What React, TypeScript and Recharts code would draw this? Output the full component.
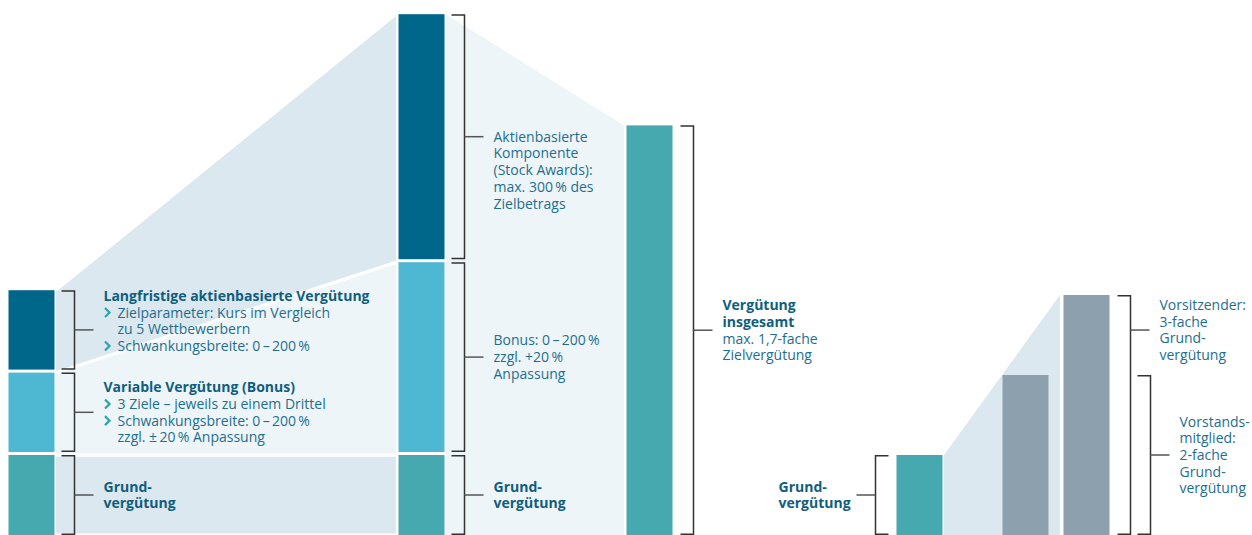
import { Area, Bar, ComposedChart, XAxis, YAxis } from "recharts";

const W = 1252;
const H = 535;
const UNIT_PX = 80; // Höhe einer Grundvergütung in px
const BAR_W = 46;
const GAP = 3;
const LH = 16.7;
const FONT = "'Open Sans', 'Noto Sans', sans-serif";

const DARK = "#00678A";
const LIGHT = "#4EB7D2";
const TEAL = "#46A9B0";
const GRAY = "#8CA1AD";
const BAND = "#DBE8EF";
const PALE = "#EEF5F9";
const TEXT = "#1E6E8E";
const HEAD = "#0F5E7E";
const BULLET = "#2BA5AB";
const RULE = "#333333";

// Spalten von links nach rechts
const columns = [
  "Zielvergütung",
  "Maximum",
  "Gesamt",
  "Grundvergütung",
  "Vorstandsmitglied",
  "Vorsitzender",
];
const columnX = [31, 421, 649, 919, 1025, 1086]; // Layout: Balkenmitten

// Werte als Vielfache der Grundvergütung
const grund = [1, 1, null, 1, null, null];
const bonus = [1.03, 2.41, null, null, null, null];
const aktien = [1.03, 3.1, null, null, null, null];
const gesamt = [null, null, 5.12, null, null, null];
const vielfaches = [null, null, null, null, 2, 3];

type Line = { t: string; bold?: boolean; bullet?: boolean; indent?: boolean };
type Spec = {
  side: "left" | "right";
  off: number;
  tickAt?: number;
  top?: boolean;
  dy?: number;
  textDx?: number;
  lines: Line[];
};

const grundLines: Line[] = [
  { t: "Grund-", bold: true },
  { t: "vergütung", bold: true },
];

const labels: Record<string, (Spec | null)[]> = {
  grund: [
    { side: "right", off: 7, lines: grundLines },
    { side: "right", off: 7, lines: grundLines },
    null,
    { side: "left", off: 8, textDx: -78, lines: grundLines },
    null,
    null,
  ],
  bonus: [
    {
      side: "right",
      off: 7,
      lines: [
        { t: "Variable Vergütung (Bonus)", bold: true },
        { t: "3 Ziele – jeweils zu einem Drittel", bullet: true },
        { t: "Schwankungsbreite: 0\u2009–\u2009200\u2009%", bullet: true },
        { t: "zzgl. ±\u200920\u2009% Anpassung", indent: true },
      ],
    },
    {
      side: "right",
      off: 7,
      lines: [
        { t: "Bonus: 0\u2009–\u2009200\u2009%" },
        { t: "zzgl. +20\u2009%" },
        { t: "Anpassung" },
      ],
    },
    null,
    null,
    null,
    null,
  ],
  aktien: [
    {
      side: "right",
      off: 7,
      dy: -9,
      lines: [
        { t: "Langfristige aktienbasierte Vergütung", bold: true },
        { t: "Zielparameter: Kurs im Vergleich", bullet: true },
        { t: "zu 5 Wettbewerbern", indent: true },
        { t: "Schwankungsbreite: 0\u2009–\u2009200\u2009%", bullet: true },
      ],
    },
    {
      side: "right",
      off: 7,
      top: true,
      lines: [
        { t: "Aktienbasierte" },
        { t: "Komponente" },
        { t: "(Stock Awards):" },
        { t: "max. 300\u2009% des" },
        { t: "Zielbetrags" },
      ],
    },
    null,
    null,
    null,
    null,
  ],
  gesamt: [
    null,
    null,
    {
      side: "right",
      off: 8,
      lines: [
        { t: "Vergütung", bold: true },
        { t: "insgesamt", bold: true },
        { t: "max. 1,7-fache" },
        { t: "Zielvergütung" },
      ],
    },
    null,
    null,
    null,
  ],
  vielfaches: [
    null,
    null,
    null,
    null,
    {
      side: "right",
      off: 89,
      lines: [
        { t: "Vorstands-" },
        { t: "mitglied:" },
        { t: "2-fache" },
        { t: "Grund-" },
        { t: "vergütung" },
      ],
    },
    {
      side: "right",
      off: 8,
      tickAt: 0.146,
      lines: [
        { t: "Vorsitzender:" },
        { t: "3-fache" },
        { t: "Grund-" },
        { t: "vergütung" },
      ],
    },
  ],
};

const series = [
  { key: "grund", colors: [TEAL, TEAL, TEAL, TEAL, TEAL, TEAL], lifted: false },
  { key: "bonus", colors: [LIGHT, LIGHT, LIGHT, LIGHT, LIGHT, LIGHT], lifted: true },
  { key: "aktien", colors: [DARK, DARK, DARK, DARK, DARK, DARK], lifted: true },
  { key: "gesamt", colors: [TEAL, TEAL, TEAL, TEAL, TEAL, TEAL], lifted: false },
  { key: "vielfaches", colors: [GRAY, GRAY, GRAY, GRAY, GRAY, GRAY], lifted: false },
];

const rows = columns.map((name, i) => ({
  name,
  x: columnX[i],
  grund: grund[i],
  bonus: bonus[i],
  aktien: aktien[i],
  gesamt: gesamt[i],
  vielfaches: vielfaches[i],
}));

const v = (a: (number | null)[], i: number) => a[i] ?? 0;
const edgeR = (i: number) => columnX[i] + BAR_W / 2 + 2;
const edgeL = (i: number) => columnX[i] - BAR_W / 2 - 2;

const bands = [
  {
    key: "links-basis",
    fill: BAND,
    gap: true,
    data: [
      { x: edgeR(0), r: [0, v(grund, 0)] },
      { x: edgeL(1), r: [0, v(grund, 1)] },
    ],
  },
  {
    key: "links-bonus",
    fill: PALE,
    gap: true,
    data: [
      { x: edgeR(0), r: [v(grund, 0), v(grund, 0) + v(bonus, 0)] },
      { x: edgeL(1), r: [v(grund, 1), v(grund, 1) + v(bonus, 1)] },
    ],
  },
  {
    key: "links-aktien",
    fill: BAND,
    gap: true,
    data: [
      {
        x: edgeR(0),
        r: [v(grund, 0) + v(bonus, 0), v(grund, 0) + v(bonus, 0) + v(aktien, 0)],
      },
      {
        x: edgeL(1),
        r: [v(grund, 1) + v(bonus, 1), v(grund, 1) + v(bonus, 1) + v(aktien, 1)],
      },
    ],
  },
  {
    key: "mitte",
    fill: PALE,
    gap: false,
    data: [
      { x: edgeR(1), r: [0, v(grund, 1) + v(bonus, 1) + v(aktien, 1)] },
      { x: edgeL(2), r: [0, v(gesamt, 2)] },
    ],
  },
  {
    key: "rechts",
    fill: BAND,
    gap: false,
    data: [
      { x: edgeR(3), r: [0, v(grund, 3)] },
      { x: edgeL(5) - 1, r: [0, v(vielfaches, 5)] },
    ],
  },
];

function TextBlock({ lines, x, y0 }: { lines: Line[]; x: number; y0: number }) {
  return (
    <g>
      {lines.map((ln, i) => {
        const cy = y0 + i * LH;
        const tx = ln.bullet || ln.indent ? x + 14 : x;
        return (
          <g key={i}>
            {ln.bullet && (
              <path
                d={`M${x + 1.5},${cy - 4.5} L${x + 6},${cy} L${x + 1.5},${cy + 4.5}`}
                stroke={BULLET}
                strokeWidth={2.2}
                fill="none"
              />
            )}
            <text
              x={tx}
              y={cy + 5}
              fontFamily={FONT}
              fontSize={14}
              fontWeight={ln.bold ? 700 : 400}
              fill={ln.bold ? HEAD : TEXT}
            >
              {ln.t}
            </text>
          </g>
        );
      })}
    </g>
  );
}

function Bracket({
  spec,
  left,
  right,
  top,
  bottom,
}: {
  spec: Spec;
  left: number;
  right: number;
  top: number;
  bottom: number;
}) {
  const dir = spec.side === "right" ? 1 : -1;
  const x0 = spec.side === "right" ? right + spec.off : left - spec.off;
  const xv = x0 + dir * 13;
  const tickY = top + (bottom - top) * (spec.tickAt ?? 0.5);
  const xt = xv + dir * 19;
  const n = spec.lines.length;
  const y0 = (spec.top ? tickY : tickY - ((n - 1) * LH) / 2) + (spec.dy ?? 0);
  const tx = spec.side === "right" ? xt + 10 : xt + (spec.textDx ?? -80);
  return (
    <g>
      <path
        d={`M${x0},${top + 0.7} H${xv} V${bottom - 0.7} H${x0}`}
        stroke={RULE}
        strokeWidth={1.5}
        fill="none"
      />
      <line x1={xv} y1={tickY} x2={xt} y2={tickY} stroke="#555" strokeWidth={1.5} />
      <TextBlock lines={spec.lines} x={tx} y0={y0} />
    </g>
  );
}

function Segment(props: any) {
  const { x, y, width, height, index, seriesKey, lifted, colors } = props;
  if (!height || height <= 0 || x == null) return null;
  const top = y;
  const bottom = y + height - (lifted ? GAP : 0);
  const spec = labels[seriesKey]?.[index] ?? null;
  return (
    <g>
      <rect x={x} y={top} width={width} height={bottom - top} fill={colors[index]} />
      {spec && (
        <Bracket spec={spec} left={x} right={x + width} top={top} bottom={bottom} />
      )}
    </g>
  );
}

export default function App() {
  return (
    <div
      style={{
        position: "absolute",
        left: 0,
        top: 0,
        width: W,
        height: H,
        background: "#fff",
      }}
    >
      <ComposedChart
        width={W}
        height={H}
        data={rows}
        margin={{ top: 0, right: 0, bottom: 0, left: 0 }}
      >
        <XAxis dataKey="x" type="number" domain={[0, W]} hide />
        <XAxis xAxisId="bg" dataKey="x" type="number" domain={[0, W]} hide />
        <YAxis type="number" domain={[0, H / UNIT_PX]} allowDataOverflow hide />
        {bands.map((b) => (
          <Area
            key={b.key}
            xAxisId="bg"
            data={b.data}
            dataKey="r"
            type="linear"
            fill={b.fill}
            fillOpacity={1}
            stroke={b.gap ? "#fff" : "none"}
            strokeWidth={3}
            dot={false}
            activeDot={false}
            isAnimationActive={false}
          />
        ))}
        {series.map((s) => (
          <Bar
            key={s.key}
            dataKey={s.key}
            stackId="s"
            barSize={BAR_W}
            fill={s.colors[0]}
            isAnimationActive={false}
            shape={(p: any) => (
              <Segment {...p} seriesKey={s.key} lifted={s.lifted} colors={s.colors} />
            )}
          />
        ))}
      </ComposedChart>
    </div>
  );
}
